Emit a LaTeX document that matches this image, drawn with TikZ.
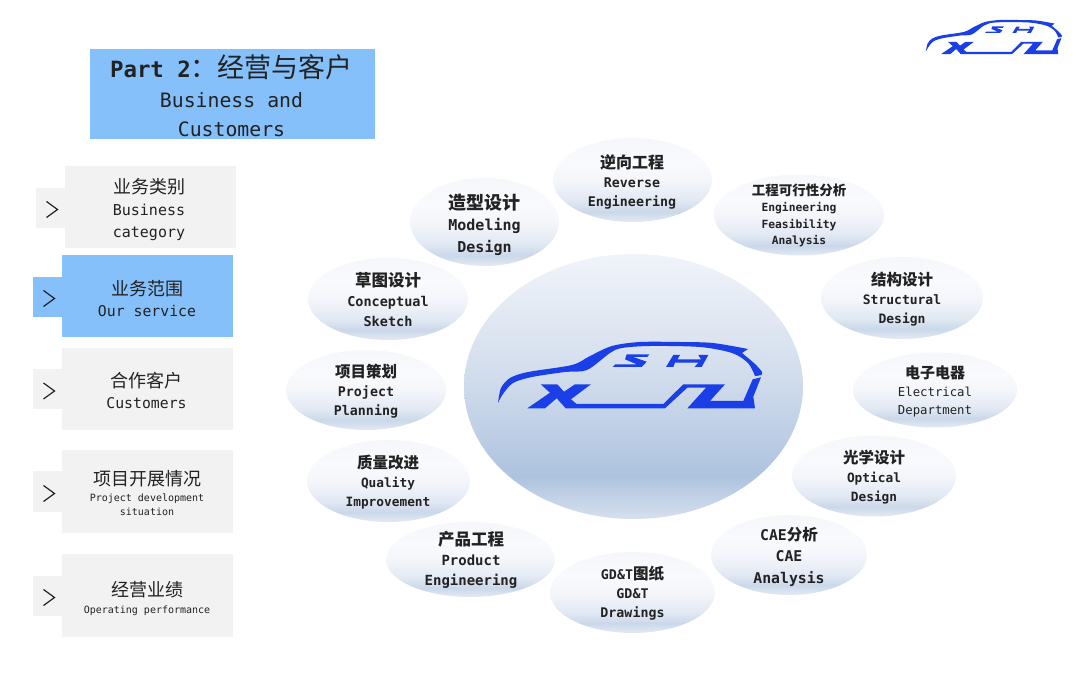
\documentclass[tikz,border=0pt]{standalone}
\usepackage{fontspec}
\usetikzlibrary{shapes.geometric}
\setmainfont{DejaVu Sans Mono}
\newfontfamily\cjk{Noto Sans CJK SC}
\definecolor{skyb}{HTML}{85C0FB}
\definecolor{panel}{HTML}{F2F2F2}
\definecolor{logob}{HTML}{1A3FE6}
\definecolor{ink}{HTML}{222222}
\definecolor{b0}{HTML}{E3EAF4}\definecolor{b1}{HTML}{CBD8EA}\definecolor{b2}{HTML}{E2E9F3}\definecolor{b3}{HTML}{F4F6FB}\definecolor{b4}{HTML}{F9FAFD}\definecolor{b5}{HTML}{F5F7FB}
\definecolor{c0}{HTML}{D6E0EE}\definecolor{c1}{HTML}{AEC3DF}\definecolor{c2}{HTML}{CEDAEB}\definecolor{c25}{HTML}{E0E7F2}\definecolor{c3}{HTML}{F0F4FA}
\pgfdeclareverticalshading{smallbub}{100bp}{color(0bp)=(b0); color(25bp)=(b0); color(31bp)=(b1); color(38bp)=(b2); color(50bp)=(b3); color(60bp)=(b4); color(75bp)=(b5); color(100bp)=(b5)}
\pgfdeclareverticalshading{bigbub}{100bp}{color(0bp)=(c0); color(25bp)=(c0); color(33bp)=(c1); color(50bp)=(c2); color(62bp)=(c25); color(75bp)=(c3); color(100bp)=(c3)}
\newcommand\han[2]{{\cjk\fontsize{#1}{#1}\selectfont #2}}
\newcommand\carlogo{%
  \fill[logob] plot[smooth] coordinates {(498,403) (501,388) (510,378) (528,372) (572,365) (590,356) (612,346) (640,342) (680,342) (713,343) (748,349)}
    -- (742,353) -- plot[smooth] coordinates {(742,353) (755,364) (762,372) (761,375) (755,376)}
    -- plot[smooth] coordinates {(755,376) (748,363) (732,353) (700,347) (650,346) (622,348) (610,353) (587,370) (565,372) (532,377) (513,383) (503,394) (498,403)} -- cycle;
  \fill[logob] (540.7,384.3) -- (557.3,384.3) -- (564,391.7) -- (575,384.3) -- (591,384.3) -- (571,399.3) -- (576.7,404) -- (663.3,404) -- (683.3,384.3) -- (725,384.3) -- (710,401) -- (743.3,401) -- (752.7,379.3) -- (761,377.3) -- (753.3,396.7) -- (755,408.3) -- (687.3,408.3) -- (706,387.7) -- (687.3,387.7) -- (665,408.3) -- (565.7,408.3) -- (556.7,398.3) -- (545,408.3) -- (527.3,408.3) -- (550,392.7) -- cycle;
  \fill[logob] (626.7,354.3) -- (649.3,354.3) -- (647.3,357) -- (633.3,357) -- (646.7,361.7) -- (641.7,367) -- (612.7,367) -- (615.3,364.3) -- (636.7,364.3) -- (625,359.3) -- cycle;
  \fill[logob] (673.3,355) -- (680,355) -- (677.5,359.3) -- (701,359.3) -- (698.3,355) -- (708.3,355) -- (701.7,367) -- (694.3,367) -- (698.5,362.7) -- (675,362.7) -- (673.3,367) -- (666,367) -- cycle;
}
\tikzset{
  x=1pt,y=-1pt,
  titlebox/.style={fill=skyb,inner sep=0pt,minimum width=285pt,minimum height=90pt},
  menubox/.style={fill=panel,inner sep=0pt,minimum width=171pt,minimum height=82pt},
  menutab/.style={fill=panel,inner sep=0pt,minimum width=29pt,minimum height=40pt},
  menuon/.style={fill=skyb},
  chev/.style={draw=ink,line width=1.2pt,line join=miter},
  bubble/.style={ellipse,inner sep=0pt,shading=smallbub},
  bigbubble/.style={ellipse,inner sep=0pt,shading=bigbub},
  lbl/.style 2 args={align=center,inner sep=0pt,text=ink,font=\fontsize{#1}{#2}\selectfont\bfseries},
  thin lbl/.style 2 args={align=center,inner sep=0pt,text=ink,font=\fontsize{#1}{#2}\selectfont},
}
\begin{document}
\begin{tikzpicture}
\useasboundingbox (0,0) rectangle (1080,676);
% title
\node[titlebox] (title) at (232.5,94) {};
\node[thin lbl={19.8}{29}] (titletext) at (231.5,96) {{\fontsize{22.4}{22.4}\selectfont\textbf{Part 2}\han{27}{：经营与客户}}\\[1pt]Business and\\Customers};
% menu
\node[menubox] (m1) at (150.5,207) {};
\node[menutab] (t1) at (50.5,208) {};
\node[thin lbl={15}{22}] (m1t) at (149,209.5) {\han{18}{业务类别}\\Business\\category};
\draw[chev] ([shift={(-4,-6.5)}]t1.center) -- ++(11,8) -- ++(-11,8);
\node[menubox,menuon] (m2) at (147.5,296.5) {};
\node[menutab,menuon] (t2) at (47.5,297) {};
\node[thin lbl={14.8}{21}] (m2t) at (147,298.5) {\han{18}{业务范围}\\Our service};
\draw[chev] ([shift={(-4,-6.5)}]t2.center) -- ++(11,8) -- ++(-11,8);
\node[menubox] (m3) at (147.5,389) {};
\node[menutab] (t3) at (47.5,389) {};
\node[thin lbl={14.8}{21}] (m3t) at (146.5,390.5) {\han{18}{合作客户}\\Customers};
\draw[chev] ([shift={(-4,-6)}]t3.center) -- ++(11,8) -- ++(-11,8);
\node[menubox] (m4) at (147.5,491.5) {};
\node[menutab] (t4) at (47.5,491.5) {};
\node[thin lbl={10}{14}] (m4t) at (147,493.5) {\han{18}{项目开展情况}\\[2pt]Project development\\situation};
\draw[chev] ([shift={(-4,-6)}]t4.center) -- ++(11,8) -- ++(-11,8);
\node[menubox,minimum height=83pt] (m5) at (147.5,595.5) {};
\node[menutab] (t5) at (47.5,595.5) {};
\node[thin lbl={10}{16.5}] (m5t) at (147,598.5) {\han{18}{经营业绩}\\Operating performance};
\draw[chev] ([shift={(-4,-6)}]t5.center) -- ++(11,8) -- ++(-11,8);
% centre
\node[bigbubble,minimum width=339pt,minimum height=265pt] (hub) at (633.5,386.5) {};
\carlogo
\begin{scope}[shift={(669.5,-156.1)},scale=0.515]\carlogo\end{scope}
% bubbles
\node[bubble,minimum width=159pt,minimum height=84pt] (b1) at (632.5,180) {};
\node[lbl={13.3}{19}] (b1t) at (632,182) {\han{16}{逆向工程}\\Reverse\\Engineering};
\node[bubble,minimum width=170pt,minimum height=81pt] (b2) at (799,215) {};
\node[lbl={11.3}{16.3}] (b2t) at (799,215.5) {\han{13.5}{工程可行性分析}\\Engineering\\Feasibility\\Analysis};
\node[bubble,minimum width=162pt,minimum height=82pt] (b3) at (902,298) {};
\node[lbl={13}{19}] (b3t) at (902,299) {\han{15.5}{结构设计}\\Structural\\Design};
\node[bubble,minimum width=164pt,minimum height=75pt] (b4) at (935,390) {};
\node[thin lbl={12.3}{18}] (b4t) at (935,391) {{\bfseries\han{15}{电子电器}}\\Electrical\\Department};
\node[bubble,minimum width=164pt,minimum height=81pt] (b5) at (874,476) {};
\node[lbl={12.8}{19}] (b5t) at (874,477) {\han{15.5}{光学设计}\\Optical\\Design};
\node[bubble,minimum width=156pt,minimum height=80pt] (b6) at (789,555) {};
\node[lbl={14.8}{21.5}] (b6t) at (789,556.5) {CAE\han{15.5}{分析}\\CAE\\Analysis};
\node[bubble,minimum width=165pt,minimum height=81pt] (b7) at (632.5,592.5) {};
\node[lbl={13.3}{19}] (b7t) at (632.5,593) {GD\&T\han{15.5}{图纸}\\GD\&T\\Drawings};
\node[bubble,minimum width=169pt,minimum height=75pt] (b8) at (470.5,559.5) {};
\node[lbl={14}{20}] (b8t) at (471,560) {\han{16.5}{产品工程}\\Product\\Engineering};
\node[bubble,minimum width=163pt,minimum height=82pt] (b9) at (388.5,481) {};
\node[lbl={12.8}{19}] (b9t) at (388,482) {\han{15.5}{质量改进}\\Quality\\Improvement};
\node[bubble,minimum width=160pt,minimum height=80pt] (b10) at (366,390) {};
\node[lbl={13.3}{19}] (b10t) at (366,391) {\han{15.5}{项目策划}\\Project\\Planning};
\node[bubble,minimum width=160pt,minimum height=82pt] (b11) at (388,299) {};
\node[lbl={13.5}{20}] (b11t) at (388,300) {\han{16.5}{草图设计}\\Conceptual\\Sketch};
\node[bubble,minimum width=149pt,minimum height=88pt] (b12) at (484.5,222) {};
\node[lbl={15}{21.5}] (b12t) at (484.5,224.5) {\han{18}{造型设计}\\Modeling\\Design};
\end{tikzpicture}
\end{document}
